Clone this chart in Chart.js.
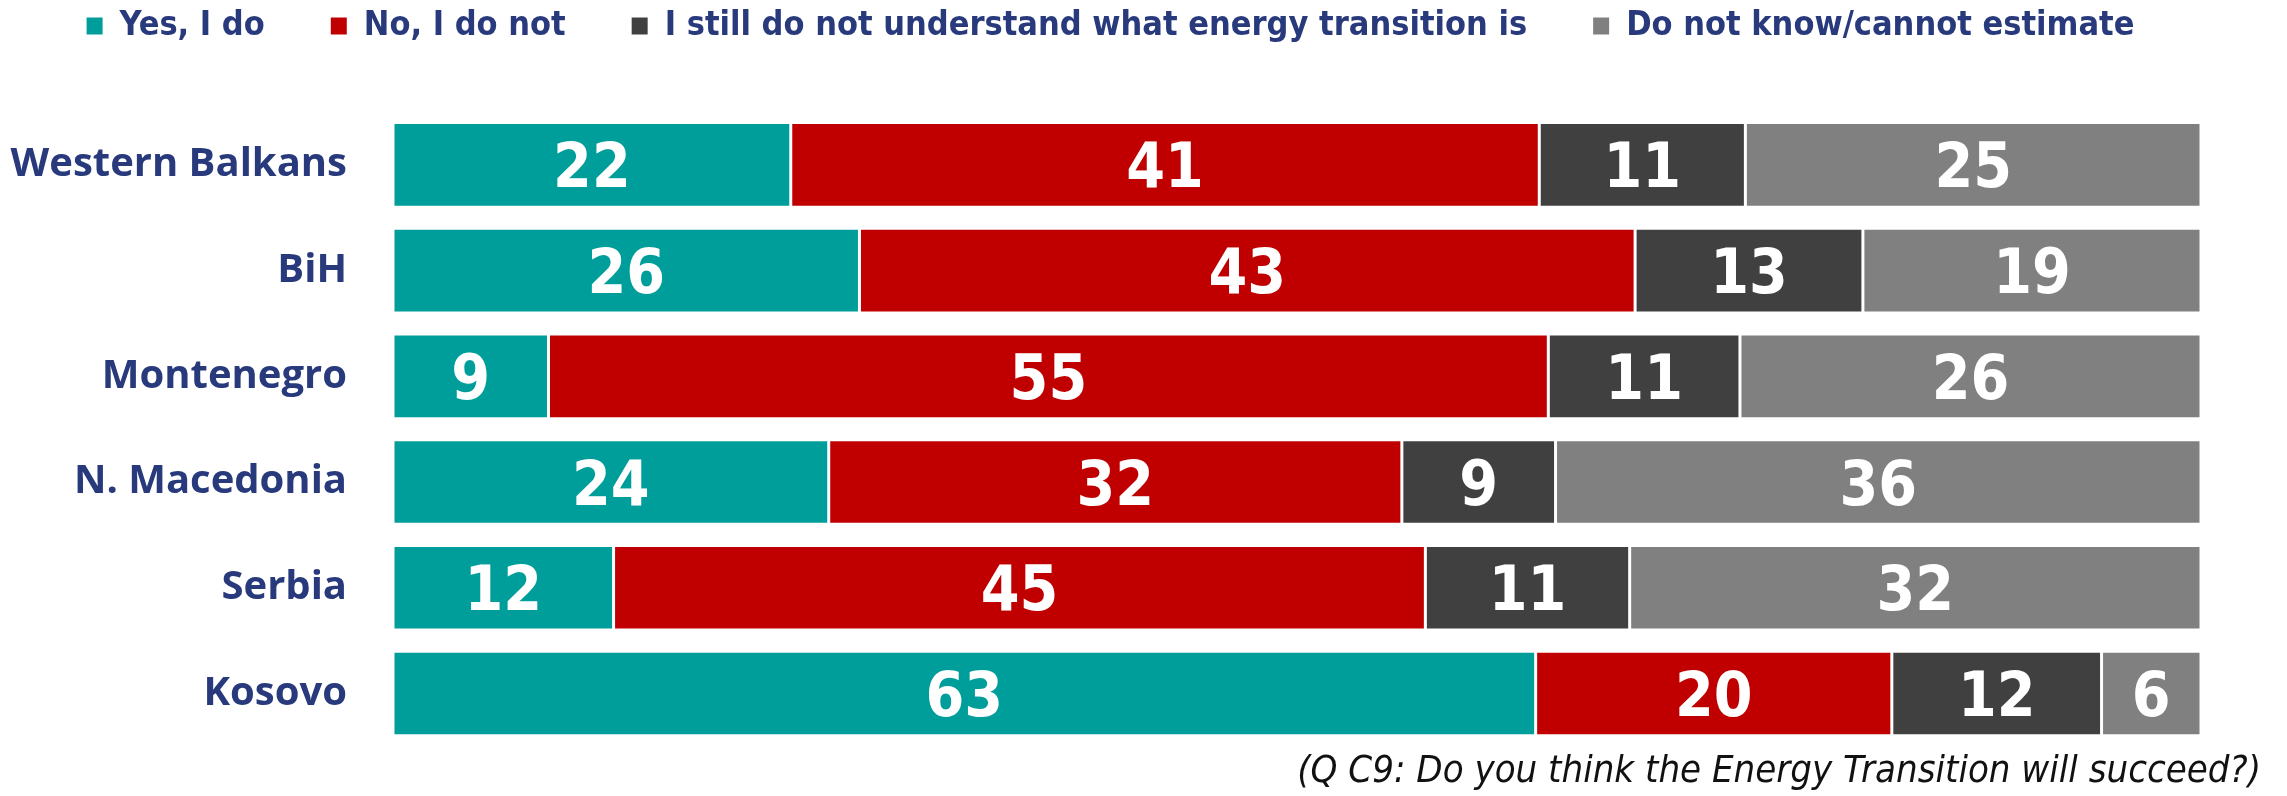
<!DOCTYPE html>
<html>
<head>
<meta charset="utf-8">
<title>Energy Transition</title>
<script src="https://cdn.jsdelivr.net/npm/chart.js@4.4.1/dist/chart.umd.min.js"></script>
<style>
    html, body { margin: 0; padding: 0; background: #ffffff; }
    #wrap { width: 2287px; height: 796px; position: relative; }
</style>
</head>
<body>
<div id="wrap"><canvas id="transition-chart"></canvas></div>
<script>
// Data (share of respondents, %)
const categories = ['Western Balkans', 'BiH', 'Montenegro', 'N. Macedonia', 'Serbia', 'Kosovo'];
const seriesNames = ['Yes, I do', 'No, I do not', 'I still do not understand what energy transition is', 'Do not know/cannot estimate'];
const yesValues = [22.0, 25.8, 8.6, 24.1, 12.2, 63.2];
const noValues = [41.4, 42.9, 55.3, 31.7, 44.9, 19.7];
const notUnderstandValues = [11.4, 12.6, 10.6, 8.5, 11.3, 11.6];
const dontKnowValues = [25.2, 18.7, 25.5, 35.7, 31.6, 5.5];
const footnote = '(Q C9: Do you think the Energy Transition will succeed?)';

const colors = {
    yes: '#009E9A',
    no: '#C00000',
    notUnderstand: '#404040',
    dontKnow: '#808080',
    label: '#283A7C'
};

// Draw the numbers inside each segment
const barLabels = {
    id: 'barLabels',
    afterDatasetsDraw(chart) {
        const ctx = chart.ctx;
        const size = 62;
        ctx.save();
        ctx.font = 'bold ' + size + 'px "DejaVu Sans Condensed", "DejaVu Sans", sans-serif';
        ctx.fillStyle = '#ffffff';
        ctx.textAlign = 'center';
        ctx.textBaseline = 'alphabetic';
        chart.data.datasets.forEach((ds, i) => {
            const meta = chart.getDatasetMeta(i);
            meta.data.forEach((bar, j) => {
                const x = (bar.x + bar.base) / 2;
                ctx.fillText(String(Math.round(ds.data[j])), x, bar.y + size * 0.729 / 2);
            });
        });
        ctx.restore();
    }
};

function makeDataset(label, data, color) {
    return {
        label: label,
        data: data,
        backgroundColor: color,
        borderColor: '#ffffff',
        borderWidth: 1.5,
        borderSkipped: false,
        categoryPercentage: 1,
        barPercentage: 0.8
    };
}

new Chart(document.getElementById('transition-chart'), {
    type: 'bar',
    data: {
        labels: categories,
        datasets: [
            makeDataset(seriesNames[0], yesValues, colors.yes),
            makeDataset(seriesNames[1], noValues, colors.no),
            makeDataset(seriesNames[2], notUnderstandValues, colors.notUnderstand),
            makeDataset(seriesNames[3], dontKnowValues, colors.dontKnow)
        ]
    },
    options: {
        indexAxis: 'y',
        responsive: true,
        maintainAspectRatio: false,
        animation: false,
        layout: {
            // negative top/left pull the legend up and left (its padding also sets the item gap)
            padding: { top: -57, right: 26, bottom: 0, left: -40 }
        },
        plugins: {
            legend: {
                display: true,
                position: 'top',
                labels: {
                    color: colors.label,
                    boxWidth: 16,
                    boxHeight: 17,
                    padding: 66,
                    font: {
                        family: '"DejaVu Sans Condensed", "DejaVu Sans", sans-serif',
                        weight: 'bold',
                        size: 34
                    },
                    generateLabels(chart) {
                        return Chart.defaults.plugins.legend.labels.generateLabels(chart).map(item => {
                            item.lineWidth = 0;
                            item.strokeStyle = 'rgba(0,0,0,0)';
                            return item;
                        });
                    }
                }
            },
            tooltip: { enabled: false },
            subtitle: {
                display: true,
                text: footnote,
                position: 'bottom',
                align: 'end',
                color: '#111111',
                padding: { top: 3, bottom: 1 },
                font: {
                    family: '"DejaVu Sans Condensed", "DejaVu Sans", sans-serif',
                    style: 'italic',
                    size: 38
                }
            }
        },
        scales: {
            x: {
                type: 'linear',
                stacked: true,
                min: 0,
                max: 100,
                position: 'top',
                grid: { display: false, drawTicks: false },
                border: { display: false },
                ticks: { display: false },
                afterFit(scale) {
                    scale.height = 59;
                }
            },
            y: {
                type: 'category',
                stacked: true,
                grid: { display: false, drawTicks: false },
                border: { display: false },
                ticks: {
                    color: colors.label,
                    padding: 46,
                    font: {
                        family: '"Open Sans", sans-serif',
                        weight: 'bold',
                        size: 40
                    }
                },
                afterFit(scale) {
                    scale.width = 433;
                    // labels sit beside the bars, no extra room needed above/below
                    scale.paddingTop = 0;
                    scale.paddingBottom = 0;
                }
            },
            yRight: {
                type: 'linear',
                position: 'right',
                grid: { display: false, drawTicks: false },
                border: { display: false },
                ticks: { display: false },
                afterFit(scale) {
                    scale.width = 60;
                }
            }
        }
    },
    plugins: [barLabels]
});
</script>
</body>
</html>
